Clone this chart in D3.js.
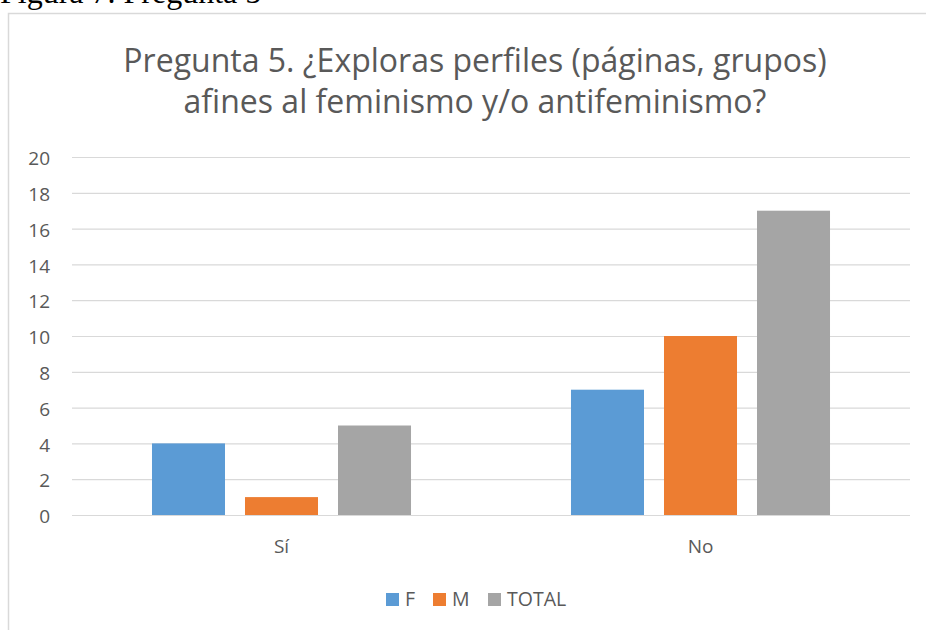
<!DOCTYPE html>
<html><head><meta charset="utf-8">
<script src="https://cdn.jsdelivr.net/npm/d3@7"></script>
<style>body{margin:0;background:#fff;}svg{display:block;}</style>
</head><body>
<script>
const categories = ["Sí", "No"];
const seriesNames = ["F", "M", "TOTAL"];
const valuesF = [4, 7];
const valuesM = [1, 10];
const valuesTotal = [5, 17];
const yTicks = [0, 2, 4, 6, 8, 10, 12, 14, 16, 18, 20];
const colors = ["#5b9bd5", "#ed7d31", "#a5a5a5"];
const titleLines = ["Pregunta 5. ¿Exploras perfiles (páginas, grupos)", "afines al feminismo y/o antifeminismo?"];

(function () {
const W = 926, H = 630;
const svg = d3.select("body").append("svg").attr("width", W).attr("height", H);
const font = "'Open Sans', Calibri, sans-serif";

// caption above, partially cut off
svg.append("text").attr("x", 0).attr("y", 3).attr("font-family", "'Liberation Serif', serif")
  .attr("font-size", 32).attr("fill", "#000").text("Figura 7. Pregunta 5");

// chart border
svg.append("rect").attr("x", 8.5).attr("y", 13.5).attr("width", 940).attr("height", 640)
  .attr("fill", "#fff").attr("stroke", "#d9d9d9").attr("stroke-width", 1.5);

// title
svg.append("g").selectAll("text").data(titleLines).join("text")
  .attr("x", 475).attr("y", (d, i) => 72 + i * 41)
  .attr("text-anchor", "middle").attr("font-family", font).attr("font-size", 32)
  .attr("fill", "#595959").text(d => d);

const pl = 72, pr = 910, pt = 157, pb = 515;
const y = d3.scaleLinear().domain([0, 20]).range([pb, pt]);
const x0 = d3.scaleBand().domain(categories).range([pl, pr]).paddingInner(0).paddingOuter(0);
const x1 = d3.scaleBand().domain(seriesNames).range([0, x0.bandwidth()]).paddingInner(0.215).paddingOuter(0.86);

// gridlines
svg.append("g").selectAll("line").data(yTicks).join("line")
  .attr("x1", pl).attr("x2", pr).attr("y1", d => y(d) + 0.5).attr("y2", d => y(d) + 0.5)
  .attr("stroke", "#d9d9d9").attr("stroke-width", 1.2);

// y axis labels
const yAxis = d3.axisLeft(y).tickValues(yTicks).tickSize(0).tickPadding(0);
const gy = svg.append("g").attr("transform", `translate(${pl - 22},0)`).call(yAxis);
gy.select(".domain").remove();
gy.selectAll("text").attr("font-family", font).attr("font-size", 19).attr("fill", "#595959").attr("dy", "0.4em");

// bars
const series = [valuesF, valuesM, valuesTotal];
const g = svg.append("g");
categories.forEach((c, ci) => {
  seriesNames.forEach((s, si) => {
    g.append("rect")
      .attr("x", x0(c) + x1(s)).attr("width", x1.bandwidth())
      .attr("y", y(series[si][ci])).attr("height", y(0) - y(series[si][ci]))
      .attr("fill", colors[si]);
  });
});

// x axis labels
const xAxis = d3.axisBottom(x0).tickSize(0).tickPadding(0);
const gx = svg.append("g").attr("transform", `translate(0,${pb + 24})`).call(xAxis);
gx.select(".domain").remove();
gx.selectAll("text").attr("font-family", font).attr("font-size", 19).attr("fill", "#595959").attr("dy", "0.71em");

// legend
const legendX = [386, 433, 488];
const lg = svg.append("g");
seriesNames.forEach((s, i) => {
  lg.append("rect").attr("x", legendX[i]).attr("y", 593).attr("width", 13).attr("height", 13).attr("fill", colors[i]);
  lg.append("text").attr("x", legendX[i] + 19).attr("y", 606).attr("font-family", font).attr("font-size", 19.5)
    .attr("fill", "#595959").text(s);
});
})();
</script>
</body></html>
